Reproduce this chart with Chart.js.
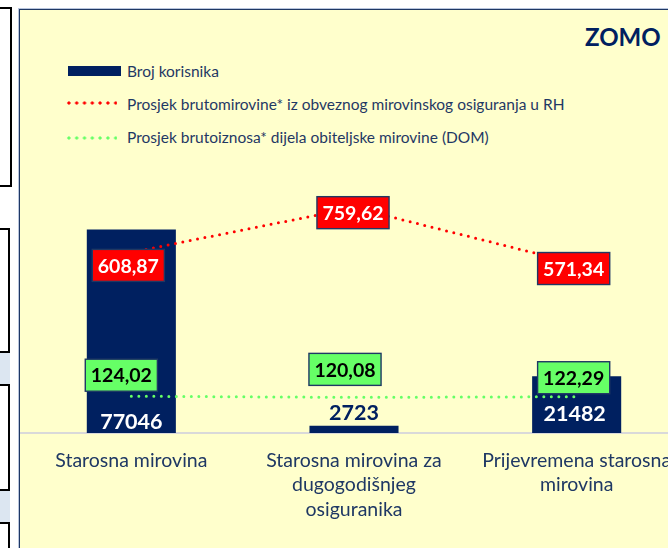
<!DOCTYPE html>
<html lang="hr">
<head>
<meta charset="utf-8">
<title>ZOMO – korisnici i prosječni iznosi mirovina</title>
<script src="https://cdn.jsdelivr.net/npm/chart.js@4.4.1/dist/chart.umd.min.js"></script>
<style>
  html, body { margin: 0; padding: 0; width: 668px; height: 548px; overflow: hidden; background: #ffffff; }
  body { position: relative; font-family: 'Lato', 'Open Sans', sans-serif; }
  .frag { position: absolute; box-sizing: content-box; }
  .panel { position: absolute; left: 19px; top: 9px; width: 700px; height: 600px;
           background: #FFFFCC; border-left: 1px solid #1F3864; border-top: 1px solid #1F3864;
           box-shadow: -1px -1px 0 #B9C6DE; }
  .title { position: absolute; left: 585px; top: 22px; font: bold 24px 'Lato', sans-serif; color: #002060; line-height: 30px; }
  .legend-item { position: absolute; left: 127px; font-size: 15.5px; line-height: 18px; color: #1F3864; white-space: nowrap; }
  .sw-bar { position: absolute; left: 68px; top: 66px; width: 53px; height: 10px; background: #002060; }
  .sw-dots { position: absolute; left: 65px; width: 52px; height: 4px; background-size: 7.8px 4px; background-repeat: repeat-x; }
  .sw-red { top: 101px; background-image: radial-gradient(circle, #FF0000 1.3px, rgba(255,0,0,0) 1.9px); }
  .sw-green { top: 136px; background-image: radial-gradient(circle, #66FF66 1.3px, rgba(102,255,102,0) 1.9px); }
  #wrap { position: absolute; left: 20px; top: 10px; width: 668px; height: 538px; }
</style>
</head>
<body>
  <!-- neighbouring page elements at the left edge -->
  <div class="frag" style="left:-4px; top:7px; width:12px; height:176px; border:2px solid #000;"></div>
  <div class="frag" style="left:-4px; top:228px; width:12px; height:340px; border-top:2px solid #000; border-right:2px solid #000;"></div>
  <div class="frag" style="left:-4px; top:351px; width:14px; height:31px; background:#DCE6F1; border-top:2px solid #000; border-bottom:2px solid #000;"></div>
  <div class="frag" style="left:-4px; top:489px; width:14px; height:31px; background:#DCE6F1; border-top:2px solid #000; border-bottom:2px solid #000;"></div>

  <div class="panel"></div>
  <div class="title">ZOMO</div>

  <div class="sw-bar"></div>
  <div class="legend-item" style="top:62px;">Broj korisnika</div>
  <div class="sw-dots sw-red"></div>
  <div class="legend-item" style="top:95px;">Prosjek brutomirovine* iz obveznog mirovinskog osiguranja u RH</div>
  <div class="sw-dots sw-green"></div>
  <div class="legend-item" style="top:128px;">Prosjek brutoiznosa* dijela obiteljske mirovine (DOM)</div>

  <div id="wrap"><canvas id="chart" width="668" height="538"></canvas></div>

<script>
// Categories (multi-line tick labels)
const categories = [
  ['Starosna mirovina'],
  ['Starosna mirovina za', 'dugogodišnjeg', 'osiguranika'],
  ['Prijevremena starosna', 'mirovina']
];

// Series values
const brojKorisnika = [77046, 2723, 21482];
const prosjekBrutomirovine = [608.87, 759.62, 571.34];
const prosjekDom = [124.02, 120.08, 122.29];

// Series names
const seriesNames = [
  'Broj korisnika',
  'Prosjek brutomirovine* iz obveznog mirovinskog osiguranja u RH',
  'Prosjek brutoiznosa* dijela obiteljske mirovine (DOM)'
];

// Colours
const NAVY = '#002060';
const TEXT_NAVY = '#1F3864';
const RED = '#FF0000';
const GREEN = '#66FF66';

// Where each boxed value label sits relative to its point (dx, dy in px)
const bruttoLabelShift = [[-3, 13], [-1, 5], [-3, 5]];
const domLabelShift = [[-10, -21], [-9, -28], [-3, -19]];

const fmtDecimal = v => v.toFixed(2).replace('.', ',');

const valueLabels = {
  id: 'valueLabels',
  afterDatasetsDraw(chart) {
    const ctx = chart.ctx;
    const base = chart.scales.y.getPixelForValue(0);
    ctx.save();
    ctx.textAlign = 'center';
    ctx.textBaseline = 'middle';

    // user counts at the foot of each column
    ctx.font = 'bold 21.5px Lato, sans-serif';
    chart.getDatasetMeta(0).data.forEach((bar, i) => {
      const inside = (base - bar.y) > 30;
      const y = inside ? (i === 0 ? base - 12 : base - 20) : base - 21;
      ctx.fillStyle = inside ? '#FFFFFF' : NAVY;
      ctx.fillText(String(brojKorisnika[i]), bar.x - (i === 2 ? 2 : 0), y + 1);
    });

    // boxed average amounts
    const drawBox = (x, y, text, fill, color) => {
      ctx.font = 'bold 19.5px Lato, sans-serif';
      const w = ctx.measureText(text).width + 11;
      const h = 32;
      ctx.fillStyle = fill;
      ctx.fillRect(x - w / 2, y - h / 2, w, h);
      ctx.lineWidth = 1.4;
      ctx.strokeStyle = TEXT_NAVY;
      ctx.strokeRect(x - w / 2, y - h / 2, w, h);
      ctx.fillStyle = color;
      ctx.fillText(text, x, y + 1);
    };
    chart.getDatasetMeta(1).data.forEach((pt, i) => {
      drawBox(pt.x + bruttoLabelShift[i][0], pt.y + bruttoLabelShift[i][1],
              fmtDecimal(prosjekBrutomirovine[i]), RED, '#FFFFFF');
    });
    chart.getDatasetMeta(2).data.forEach((pt, i) => {
      drawBox(pt.x + domLabelShift[i][0], pt.y + domLabelShift[i][1],
              fmtDecimal(prosjekDom[i]), GREEN, '#000000');
    });
    ctx.restore();
  }
};

Chart.defaults.font.family = 'Lato, sans-serif';

new Chart(document.getElementById('chart'), {
  data: {
    labels: categories,
    datasets: [
      {
        type: 'bar',
        label: seriesNames[0],
        data: brojKorisnika,
        backgroundColor: NAVY,
        borderWidth: 0,
        barPercentage: 0.4,
        categoryPercentage: 1,
        yAxisID: 'y',
        order: 3
      },
      {
        type: 'line',
        label: seriesNames[1],
        data: prosjekBrutomirovine,
        borderColor: RED,
        borderWidth: 3,
        borderDash: [0, 7.5],
        borderCapStyle: 'round',
        pointRadius: 0,
        tension: 0,
        fill: false,
        yAxisID: 'y1',
        order: 1
      },
      {
        type: 'line',
        label: seriesNames[2],
        data: prosjekDom,
        borderColor: GREEN,
        borderWidth: 3,
        borderDash: [0, 7.5],
        borderCapStyle: 'round',
        pointRadius: 0,
        tension: 0,
        fill: false,
        yAxisID: 'y1',
        order: 2
      }
    ]
  },
  options: {
    responsive: false,
    animation: false,
    events: [],
    layout: { padding: { top: 159, left: 0, right: 0, bottom: 0 } },
    plugins: {
      legend: { display: false },
      tooltip: { enabled: false },
      title: { display: false }
    },
    scales: {
      x: {
        grid: { display: false, drawTicks: false },
        border: { display: true, color: '#D9D9D9', width: 2 },
        ticks: {
          color: TEXT_NAVY,
          font: { size: 19.5, lineHeight: 1.256 },
          padding: 15,
          autoSkip: false,
          maxRotation: 0,
          minRotation: 0
        },
        afterFit(scale) { scale.height = 115; }
      },
      y: { display: false, min: 0, max: 100000 },
      y1: { display: false, min: 0, max: 890, position: 'right' }
    }
  },
  plugins: [valueLabels]
});
</script>
</body>
</html>
